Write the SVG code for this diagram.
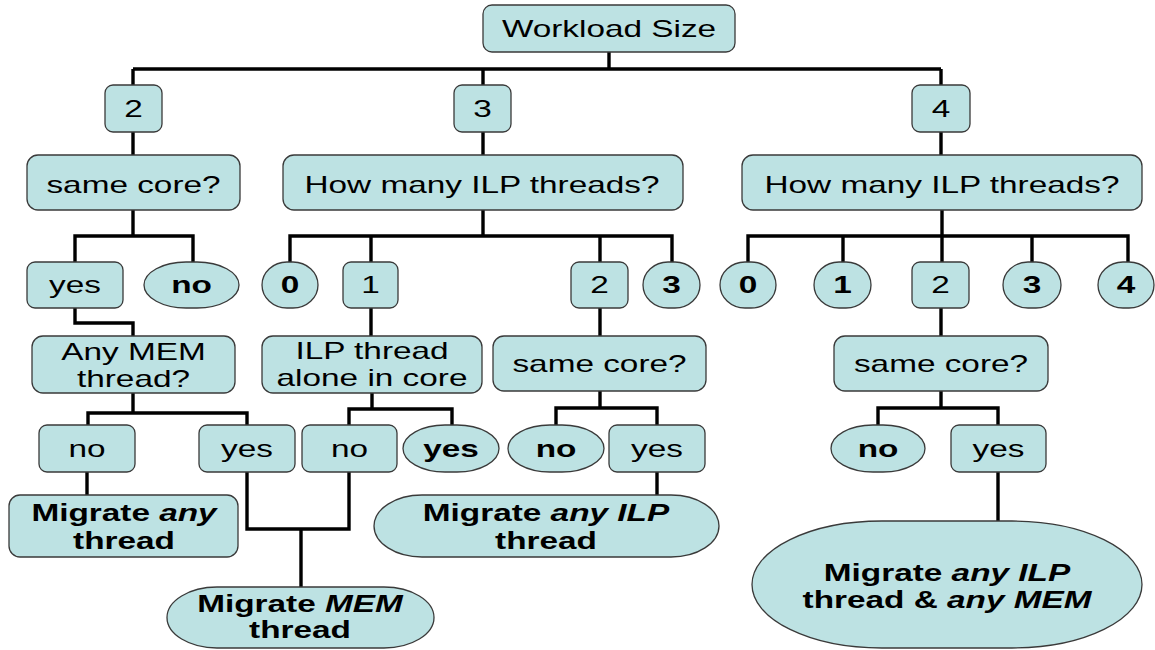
<svg xmlns="http://www.w3.org/2000/svg" width="1155" height="650" viewBox="0 0 1155 650">
<style>
.n{fill:#bde2e3;stroke:#3a3a3a;stroke-width:1.3}
.c{fill:none;stroke:#000;stroke-width:3.4;stroke-linejoin:miter;stroke-linecap:butt}
text{font-family:"Liberation Sans",Arial,Helvetica,sans-serif;font-size:23px;text-anchor:middle;fill:#000}
.b{font-weight:bold}
.i{font-style:italic}
</style>
<rect width="1155" height="650" fill="#fff"/>
<g id="connectors" class="c">
<path d="M609 52V69M133 69H941M133 69V85M483 69V85M941 69V85"/>
<path d="M133 132V155M483 132V155M941 132V155"/>
<path d="M133 210V236M75 262V236H193V262"/>
<path d="M483 210V236M290 262V236H672V262M371 236V262M600 236V262"/>
<path d="M942 210V236M748 262V236H1128V262M843 236V262M942 236V262M1032 236V262"/>
<path d="M75 308V323H133V336M371 308V336M600 308V336M941 308V336"/>
<path d="M133 393V413M88 425V413H247V425"/>
<path d="M372 393V409M349 425V409H452V425"/>
<path d="M600 391V408M556 425V408H657V425"/>
<path d="M941 391V408M878 425V408H998V425"/>
<path d="M87 472V495M247 472V529H349V472M301 529V587M657 472V495M998 472V521"/>
</g>
<g id="workload"><rect class="n" x="483" y="5" width="252" height="47" rx="9"/><text transform="translate(609 37) scale(1.45 1)">Workload Size</text></g>
<g id="size2"><rect class="n" x="105" y="85" width="57" height="47" rx="8"/><text transform="translate(133.5 117) scale(1.45 1)">2</text></g>
<g id="size3"><rect class="n" x="454" y="85" width="57" height="47" rx="8"/><text transform="translate(482.5 117) scale(1.45 1)">3</text></g>
<g id="size4"><rect class="n" x="912" y="85" width="58" height="47" rx="8"/><text transform="translate(941 117) scale(1.45 1)">4</text></g>
<g id="samecore2"><rect class="n" x="27" y="155" width="213" height="55" rx="11"/><text transform="translate(133.5 193) scale(1.45 1)">same core?</text></g>
<g id="ilp3"><rect class="n" x="283" y="155" width="400" height="55" rx="11"/><text transform="translate(482 193) scale(1.45 1)">How many ILP threads?</text></g>
<g id="ilp4"><rect class="n" x="742" y="155" width="400" height="55" rx="11"/><text transform="translate(942 193) scale(1.45 1)">How many ILP threads?</text></g>
<g id="yes2"><rect class="n" x="27" y="262" width="96" height="46" rx="8"/><text transform="translate(75 293) scale(1.45 1)">yes</text></g>
<g id="no2"><rect class="n" x="144" y="262" width="95" height="46" rx="42" ry="23"/><text class="b" transform="translate(191.5 293) scale(1.45 1)">no</text></g>
<g id="ilp3-0"><rect class="n" x="262" y="262" width="56" height="46" rx="25" ry="23"/><text class="b" transform="translate(290 293) scale(1.45 1)">0</text></g>
<g id="ilp3-1"><rect class="n" x="343" y="262" width="55" height="46" rx="8"/><text transform="translate(370.5 293) scale(1.45 1)">1</text></g>
<g id="ilp3-2"><rect class="n" x="571" y="262" width="57" height="46" rx="8"/><text transform="translate(599.5 293) scale(1.45 1)">2</text></g>
<g id="ilp3-3"><rect class="n" x="643" y="262" width="57" height="46" rx="25" ry="23"/><text class="b" transform="translate(671.5 293) scale(1.45 1)">3</text></g>
<g id="ilp4-0"><rect class="n" x="720" y="262" width="56" height="46" rx="25" ry="23"/><text class="b" transform="translate(748 293) scale(1.45 1)">0</text></g>
<g id="ilp4-1"><rect class="n" x="814" y="262" width="57" height="46" rx="25" ry="23"/><text class="b" transform="translate(842.5 293) scale(1.45 1)">1</text></g>
<g id="ilp4-2"><rect class="n" x="912" y="262" width="57" height="46" rx="8"/><text transform="translate(940.5 293) scale(1.45 1)">2</text></g>
<g id="ilp4-3"><rect class="n" x="1003" y="262" width="58" height="46" rx="25" ry="23"/><text class="b" transform="translate(1032 293) scale(1.45 1)">3</text></g>
<g id="ilp4-4"><rect class="n" x="1098" y="262" width="56" height="46" rx="25" ry="23"/><text class="b" transform="translate(1126 293) scale(1.45 1)">4</text></g>
<g id="anymem"><rect class="n" x="32" y="336" width="203" height="57" rx="11"/><text transform="translate(133.5 360) scale(1.45 1)">Any MEM</text><text transform="translate(133.5 387) scale(1.45 1)">thread?</text></g>
<g id="ilpalone"><rect class="n" x="262" y="336" width="220" height="57" rx="11"/><text transform="translate(372 359) scale(1.45 1)">ILP thread</text><text transform="translate(372 386) scale(1.45 1)">alone in core</text></g>
<g id="samecore3"><rect class="n" x="493" y="336" width="213" height="55" rx="11"/><text transform="translate(599.5 372) scale(1.45 1)">same core?</text></g>
<g id="samecore4"><rect class="n" x="834" y="336" width="214" height="55" rx="11"/><text transform="translate(941 372) scale(1.45 1)">same core?</text></g>
<g id="mem-no"><rect class="n" x="39" y="425" width="96" height="47" rx="8"/><text transform="translate(87 457) scale(1.45 1)">no</text></g>
<g id="mem-yes"><rect class="n" x="199" y="425" width="96" height="47" rx="8"/><text transform="translate(247 457) scale(1.45 1)">yes</text></g>
<g id="alone-no"><rect class="n" x="302" y="425" width="95" height="47" rx="8"/><text transform="translate(349.5 457) scale(1.45 1)">no</text></g>
<g id="alone-yes"><rect class="n" x="403" y="425" width="96" height="47" rx="42" ry="23.5"/><text class="b" transform="translate(451 457) scale(1.45 1)">yes</text></g>
<g id="sc3-no"><rect class="n" x="508" y="425" width="96" height="47" rx="42" ry="23.5"/><text class="b" transform="translate(556 457) scale(1.45 1)">no</text></g>
<g id="sc3-yes"><rect class="n" x="609" y="425" width="96" height="47" rx="8"/><text transform="translate(657 457) scale(1.45 1)">yes</text></g>
<g id="sc4-no"><rect class="n" x="831" y="425" width="94" height="47" rx="42" ry="23.5"/><text class="b" transform="translate(878 457) scale(1.45 1)">no</text></g>
<g id="sc4-yes"><rect class="n" x="951" y="425" width="95" height="47" rx="8"/><text transform="translate(998.5 457) scale(1.45 1)">yes</text></g>
<g id="migrate-any"><rect class="n" x="9" y="495" width="229" height="62" rx="11"/><text class="b" transform="translate(124 521) scale(1.45 1)">Migrate <tspan class="i">any</tspan></text><text class="b" transform="translate(124 549) scale(1.45 1)">thread</text></g>
<g id="migrate-mem"><rect class="n" x="167" y="587" width="267" height="61" rx="50" ry="30.5"/><text class="b" transform="translate(300 612) scale(1.45 1)">Migrate <tspan class="i">MEM</tspan></text><text class="b" transform="translate(300 638) scale(1.45 1)">thread</text></g>
<g id="migrate-ilp"><rect class="n" x="374" y="495" width="345" height="62" rx="48" ry="31"/><text class="b" transform="translate(546 521) scale(1.45 1)">Migrate <tspan class="i">any ILP</tspan></text><text class="b" transform="translate(546 549) scale(1.45 1)">thread</text></g>
<g id="migrate-ilp-mem"><rect class="n" x="752" y="521" width="390" height="127" rx="130" ry="63.5"/><text class="b" transform="translate(947 581) scale(1.45 1)">Migrate <tspan class="i">any ILP</tspan></text><text class="b" transform="translate(947 608) scale(1.45 1)">thread &amp; <tspan class="i">any MEM</tspan></text></g>
</svg>
